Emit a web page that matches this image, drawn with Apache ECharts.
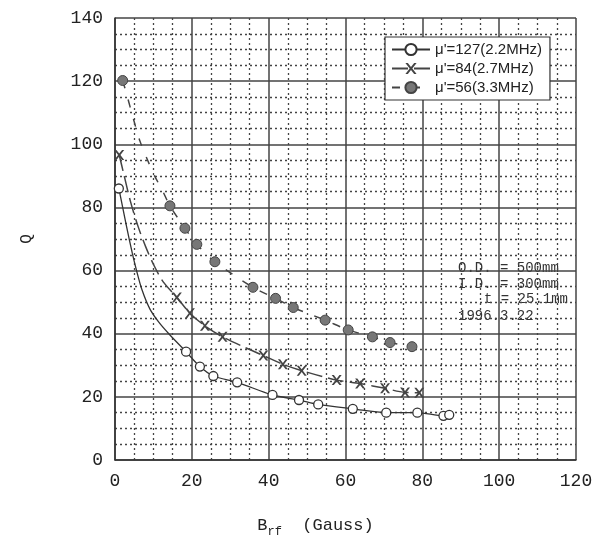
<!DOCTYPE html>
<html>
<head>
<meta charset="utf-8">
<script src="https://cdn.jsdelivr.net/npm/echarts@6/dist/echarts.min.js"></script>
<style>
  html, body { margin: 0; padding: 0; background: #fff; }
  #chart { width: 599px; height: 543px; }
</style>
</head>
<body>
<div id="chart"></div>
<script>
// 测定点 (B_rf, Q)
var names = ["μ'=127(2.2MHz)", "μ'=84(2.7MHz)", "μ'=56(3.3MHz)"];
var meas127 = [[1.0, 86.0], [18.5, 34.3], [22.1, 29.6], [25.6, 26.6], [31.8, 24.6], [41.0, 20.6], [47.9, 19.0],
               [52.9, 17.6], [61.9, 16.2], [70.6, 15.0], [78.7, 15.0], [85.5, 14.0], [87.0, 14.3]];
var meas84 = [[1.1, 96.6], [16.1, 51.5], [19.5, 46.5], [23.4, 42.5], [28.0, 39.0], [38.6, 33.1], [43.7, 30.3],
              [48.6, 28.3], [57.7, 25.3], [63.8, 24.2], [70.3, 22.7], [75.5, 21.4], [79.2, 21.3]];
var meas56 = [[2.0, 120.2], [14.3, 80.5], [18.2, 73.4], [21.3, 68.3], [26.0, 62.8], [35.9, 54.7], [41.8, 51.2],
              [46.4, 48.3], [54.7, 44.3], [60.7, 41.2], [67.0, 39.0], [71.6, 37.2], [77.3, 35.9]];
// 曲线上读取的点 (无标记)
var curve127 = [[2.0, 80.0], [3.0, 74.0], [4.5, 65.5], [5.5, 60.5], [7.0, 54.0], [9.1, 47.8], [11.5, 43.5], [14.3, 39.6]];
var curve84 = [[2.2, 91.0], [4.0, 82.0], [6.0, 74.0], [8.0, 67.5], [10.0, 62.0], [12.5, 56.5], [33.9, 35.6]];
var curve56 = [[3.0, 116.0], [4.8, 108.0], [6.5, 101.0], [8.3, 95.5], [10.3, 90.0], [12.3, 85.5]];
var notes = ['O.D. = 500mm', 'I.D. = 300mm', 't = 25.1mm', '1996.3.22'];

var mono = 'Liberation Mono';

function mergeData(meas, curve) {
  var all = meas.map(function (p) { return { value: p }; })
    .concat(curve.map(function (p) { return { value: p, symbol: 'none' }; }));
  all.sort(function (a, b) { return a.value[0] - b.value[0]; });
  return all;
}

var xMark = 'path://M0,0 L2.2,0 L5,3.6 L7.8,0 L10,0 L6.2,5 L10,10 L7.8,10 L5,6.4 L2.2,10 L0,10 L3.8,5 Z';

var chart = echarts.init(document.getElementById('chart'));
chart.setOption({
  animation: false,
  grid: { left: 115, right: 23, top: 18, bottom: 83 },
  legend: {
    orient: 'vertical',
    left: 385, top: 37,
    width: 170,
    backgroundColor: '#fff',
    borderColor: '#333',
    borderWidth: 1.2,
    padding: [5, 8, 5, 6],
    itemGap: 4,
    itemWidth: 38,
    itemHeight: 14,
    textStyle: { fontFamily: 'Liberation Sans', fontSize: 15, color: '#222' },
    data: names
  },
  xAxis: {
    type: 'value', min: 0, max: 120, interval: 20,
    name: '{b|B}{s|rf}  (Gauss)',
    nameLocation: 'middle', nameGap: 52,
    nameTextStyle: {
      padding: [0, 60, 0, 0],
      rich: {
        b: { fontFamily: mono, fontSize: 17, color: '#222' },
        s: { fontFamily: mono, fontSize: 12, color: '#222', padding: [14, 0, 0, 0] }
      },
      fontFamily: mono, fontSize: 17, color: '#222'
    },
    axisLine: { lineStyle: { color: '#333', width: 1.5 } },
    axisTick: { show: false },
    axisLabel: { fontFamily: mono, fontSize: 18, color: '#222', margin: 12 },
    splitLine: { lineStyle: { color: '#444', width: 1.5 } },
    minorTick: { show: false, splitNumber: 4 },
    minorSplitLine: { show: true, lineStyle: { color: '#444', width: 1.3, type: [2, 3] } }
  },
  yAxis: {
    type: 'value', min: 0, max: 140, interval: 20,
    name: 'Q', nameLocation: 'middle', nameGap: 80,
    nameTextStyle: { fontFamily: mono, fontSize: 16, color: '#222' },
    axisLine: { lineStyle: { color: '#333', width: 1.5 } },
    axisTick: { show: false },
    axisLabel: { fontFamily: mono, fontSize: 18, color: '#222', margin: 12 },
    splitLine: { lineStyle: { color: '#444', width: 1.5 } },
    minorTick: { show: false, splitNumber: 4 },
    minorSplitLine: { show: true, lineStyle: { color: '#444', width: 1.3, type: [2, 3] } }
  },
  graphic: [
    { type: 'text', left: 458, top: 261, style: { text: notes[0], font: '14px ' + mono, fill: '#333' } },
    { type: 'text', left: 458, top: 277, style: { text: notes[1], font: '14px ' + mono, fill: '#333' } },
    { type: 'text', right: 31, top: 292, style: { text: notes[2], font: '14px ' + mono, fill: '#333' } },
    { type: 'text', left: 458, top: 309, style: { text: notes[3], font: '14px ' + mono, fill: '#333' } }
  ],
  series: [
    {
      name: names[0], type: 'line', smooth: 0.3, showAllSymbol: true,
      symbol: 'circle', symbolSize: 9,
      itemStyle: { color: '#fff', borderColor: '#333', borderWidth: 1.3 },
      lineStyle: { color: '#333', width: 1.3 },
      data: mergeData(meas127, curve127)
    },
    {
      name: names[1], type: 'line', smooth: 0.3, showAllSymbol: true,
      symbol: xMark, symbolSize: 10,
      itemStyle: { color: '#444' },
      lineStyle: { color: '#444', width: 1.5, type: [16, 6] },
      data: mergeData(meas84, curve84)
    },
    {
      name: names[2], type: 'line', smooth: 0.3, showAllSymbol: true,
      symbol: 'circle', symbolSize: 10,
      itemStyle: { color: '#777', borderColor: '#444', borderWidth: 1 },
      lineStyle: { color: '#444', width: 1.5, type: [8, 12] },
      data: mergeData(meas56, curve56)
    }
  ]
});
</script>
</body>
</html>
